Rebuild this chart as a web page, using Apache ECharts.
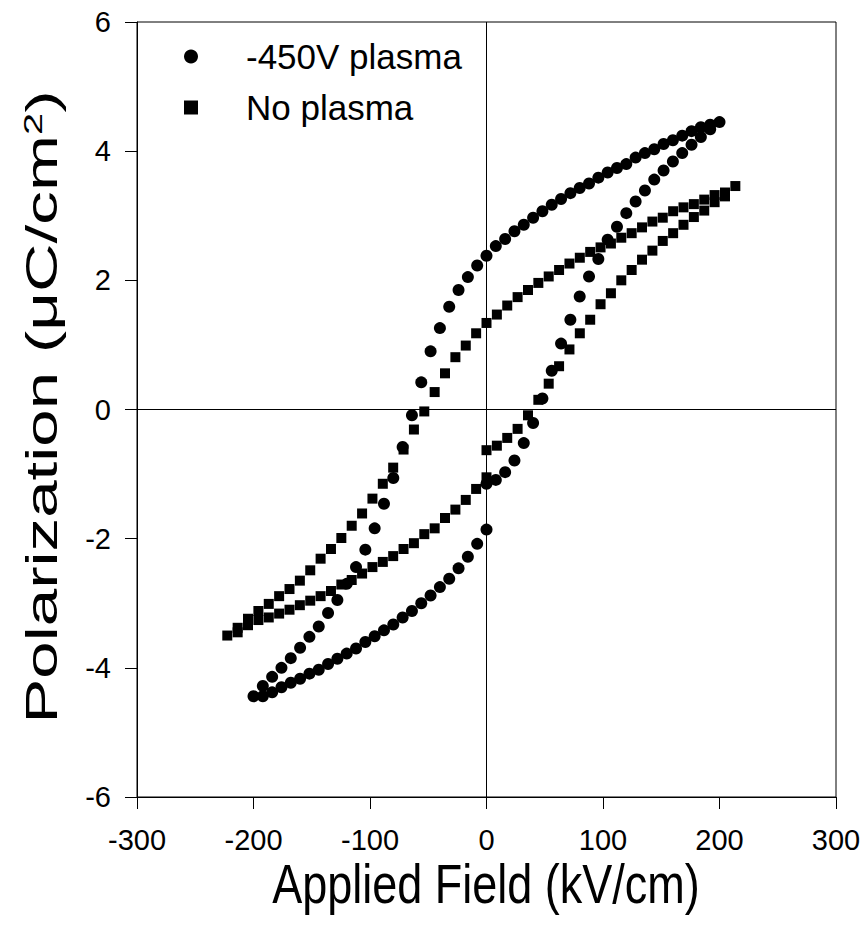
<!DOCTYPE html>
<html>
<head>
<meta charset="utf-8">
<script src="https://cdn.jsdelivr.net/npm/echarts@6/dist/echarts.min.js"></script>
<style>
  html, body { margin: 0; padding: 0; background: #fff; }
  #chart { width: 867px; height: 948px; }
</style>
</head>
<body>
<div id="chart"></div>
<script>
// -450V plasma (circles): rising branch, upper branch, lower branch
var plasmaRiseField = [0, 8, 16, 24, 32, 40, 48, 56, 64, 72, 80, 88, 96, 104, 112, 120, 128, 136, 144, 152, 160, 168, 176, 184, 192, 200]
var plasmaRisePol = [-1.15, -1.09, -0.97, -0.79, -0.52, -0.21, 0.17, 0.60, 1.02, 1.39, 1.75, 2.06, 2.33, 2.63, 2.83, 3.04, 3.22, 3.39, 3.56, 3.70, 3.84, 3.97, 4.10, 4.22, 4.34, 4.45]
var plasmaUpperField = [192, 184, 176, 168, 160, 152, 144, 136, 128, 120, 112, 104, 96, 88, 80, 72, 64, 56, 48, 40, 32, 24, 16, 8, 0,
  -8, -16, -24, -32, -40, -48, -56, -64, -72, -80, -88, -96, -104, -112, -120, -128, -136, -144, -152, -160, -168, -176, -184, -192, -200]
var plasmaUpperPol = [4.41, 4.37, 4.31, 4.24, 4.17, 4.11, 4.03, 3.97, 3.90, 3.80, 3.74, 3.67, 3.59, 3.50, 3.43, 3.35, 3.26, 3.17, 3.07, 2.97, 2.86, 2.76, 2.64, 2.53, 2.38,
  2.23, 2.05, 1.85, 1.59, 1.26, 0.90, 0.42, -0.09, -0.58, -1.06, -1.46, -1.84, -2.17, -2.44, -2.70, -2.95, -3.15, -3.36, -3.52, -3.69, -3.85, -4.00, -4.14, -4.28, -4.44]
var plasmaLowerField = [-192, -184, -176, -168, -160, -152, -144, -136, -128, -120, -112, -104, -96, -88, -80, -72, -64, -56, -48, -40, -32, -24, -16, -8, 0]
var plasmaLowerPol = [-4.44, -4.38, -4.30, -4.23, -4.17, -4.09, -4.03, -3.94, -3.86, -3.78, -3.70, -3.60, -3.51, -3.42, -3.33, -3.22, -3.12, -3.00, -2.88, -2.75, -2.62, -2.46, -2.28, -2.08, -1.86]

// No plasma (squares)
var noPlasmaRiseField = [0, 8.9, 17.8, 26.7, 35.6, 44.5, 53.4, 62.3, 71.2, 80.1, 89, 97.9, 106.8, 115.7, 124.6, 133.5, 142.4, 151.3, 160.2, 169.1, 178, 186.9, 195.8, 204.7, 213.6]
var noPlasmaRisePol = [-0.63, -0.56, -0.44, -0.30, -0.09, 0.15, 0.40, 0.67, 0.93, 1.18, 1.39, 1.63, 1.80, 2.00, 2.16, 2.32, 2.46, 2.61, 2.73, 2.86, 2.98, 3.08, 3.21, 3.30, 3.46]
var noPlasmaUpperField = [204.7, 195.8, 186.9, 178, 169.1, 160.2, 151.3, 142.4, 133.5, 124.6, 115.7, 106.8, 97.9, 89, 80.1, 71.2, 62.3, 53.4, 44.5, 35.6, 26.7, 17.8, 8.9, 0,
  -8.9, -17.8, -26.7, -35.6, -44.5, -53.4, -62.3, -71.2, -80.1, -89, -97.9, -106.8, -115.7, -124.6, -133.5, -142.4, -151.3, -160.2, -169.1, -178, -186.9, -195.8, -204.7, -213.6, -222.5]
var noPlasmaUpperPol = [3.36, 3.32, 3.25, 3.18, 3.13, 3.07, 2.97, 2.91, 2.82, 2.73, 2.66, 2.57, 2.51, 2.44, 2.35, 2.26, 2.16, 2.06, 1.96, 1.85, 1.74, 1.61, 1.47, 1.34,
  1.18, 0.99, 0.81, 0.56, 0.27, -0.03, -0.31, -0.62, -0.90, -1.15, -1.38, -1.61, -1.80, -1.99, -2.16, -2.31, -2.49, -2.65, -2.78, -2.89, -3.01, -3.12, -3.24, -3.38, -3.50]
var noPlasmaLowerField = [-213.6, -204.7, -195.8, -186.9, -178, -169.1, -160.2, -151.3, -142.4, -133.5, -124.6, -115.7, -106.8, -97.9, -89, -80.1, -71.2, -62.3, -53.4, -44.5, -35.6, -26.7, -17.8, -8.9, 0]
var noPlasmaLowerPol = [-3.45, -3.34, -3.26, -3.22, -3.16, -3.10, -3.03, -2.96, -2.89, -2.81, -2.71, -2.64, -2.54, -2.44, -2.36, -2.27, -2.16, -2.07, -1.93, -1.84, -1.68, -1.55, -1.40, -1.23, -1.05]

var seriesNames = ['-450V plasma', 'No plasma']
var xTicks = [-300, 300, 100]
var yTicks = [-6, 6, 2]

var font = '"Liberation Sans", Arial, sans-serif'

function pairs (xs, ys) {
  let out = []
  for (let i = 0; i < xs.length; i++) {
    out.push([xs[i], ys[i]])
  }
  return out
}

var plasmaData = pairs(plasmaRiseField, plasmaRisePol)
  .concat(pairs(plasmaUpperField, plasmaUpperPol))
  .concat(pairs(plasmaLowerField, plasmaLowerPol))
var noPlasmaData = pairs(noPlasmaRiseField, noPlasmaRisePol)
  .concat(pairs(noPlasmaUpperField, noPlasmaUpperPol))
  .concat(pairs(noPlasmaLowerField, noPlasmaLowerPol))

var chart = echarts.init(document.getElementById('chart'), null, {renderer: 'svg'})

var axisCommon = {
  type: 'value',
  splitLine: {show: false},
  axisLine: {show: true, onZero: false, lineStyle: {color: '#000', width: 1}},
  axisTick: {show: true, inside: false, length: 12, lineStyle: {color: '#000', width: 1}},
  axisLabel: {color: '#000', fontSize: 29, fontFamily: font}
}

var option = {
  backgroundColor: '#fff',
  animation: false,
  grid: {
    left: 137,
    right: 31,
    top: 22,
    bottom: 151,
    show: true,
    borderColor: '#000',
    borderWidth: 1
  },
  legend: {
    orient: 'vertical',
    left: 179,
    top: 34,
    itemWidth: 14,
    itemHeight: 14,
    itemGap: 16,
    textStyle: {color: '#000', fontSize: 35, fontFamily: font, padding: [0, 0, 0, 43]},
    data: seriesNames
  },
  xAxis: Object.assign({}, axisCommon, {
    min: xTicks[0],
    max: xTicks[1],
    interval: xTicks[2],
    axisLabel: Object.assign({}, axisCommon.axisLabel, {margin: 28})
  }),
  yAxis: Object.assign({}, axisCommon, {
    min: yTicks[0],
    max: yTicks[1],
    interval: yTicks[2],
    axisLabel: Object.assign({}, axisCommon.axisLabel, {margin: 26})
  }),
  graphic: [{
    type: 'text',
    x: 486,
    y: 884,
    scaleY: 1.25,
    style: {
      text: 'Applied Field (kV/cm)',
      font: '45px ' + font,
      fill: '#000',
      align: 'center',
      verticalAlign: 'middle'
    }
  }, {
    type: 'text',
    x: 42,
    y: 407,
    rotation: Math.PI / 2,
    scaleX: 1.53,
    style: {
      text: 'Polarization (μC/cm{sup|2})',
      font: '44px ' + font,
      fill: '#000',
      align: 'center',
      verticalAlign: 'middle',
      rich: {
        sup: {fontSize: 26, fontFamily: font, fill: '#000', verticalAlign: 'top'}
      }
    }
  }],
  series: [{
    name: 'axes',
    type: 'line',
    data: [],
    z: 1,
    markLine: {
      silent: true,
      symbol: 'none',
      label: {show: false},
      lineStyle: {color: '#000', width: 1, type: 'solid'},
      data: [{xAxis: 0}, {yAxis: 0}]
    }
  }, {
    name: seriesNames[0],
    type: 'scatter',
    symbol: 'circle',
    symbolSize: 12,
    itemStyle: {color: '#000', opacity: 1},
    z: 3,
    data: plasmaData
  }, {
    name: seriesNames[1],
    type: 'scatter',
    symbol: 'rect',
    symbolSize: 10,
    itemStyle: {color: '#000', opacity: 1},
    z: 2,
    data: noPlasmaData
  }]
}

chart.setOption(option)
</script>
</body>
</html>
